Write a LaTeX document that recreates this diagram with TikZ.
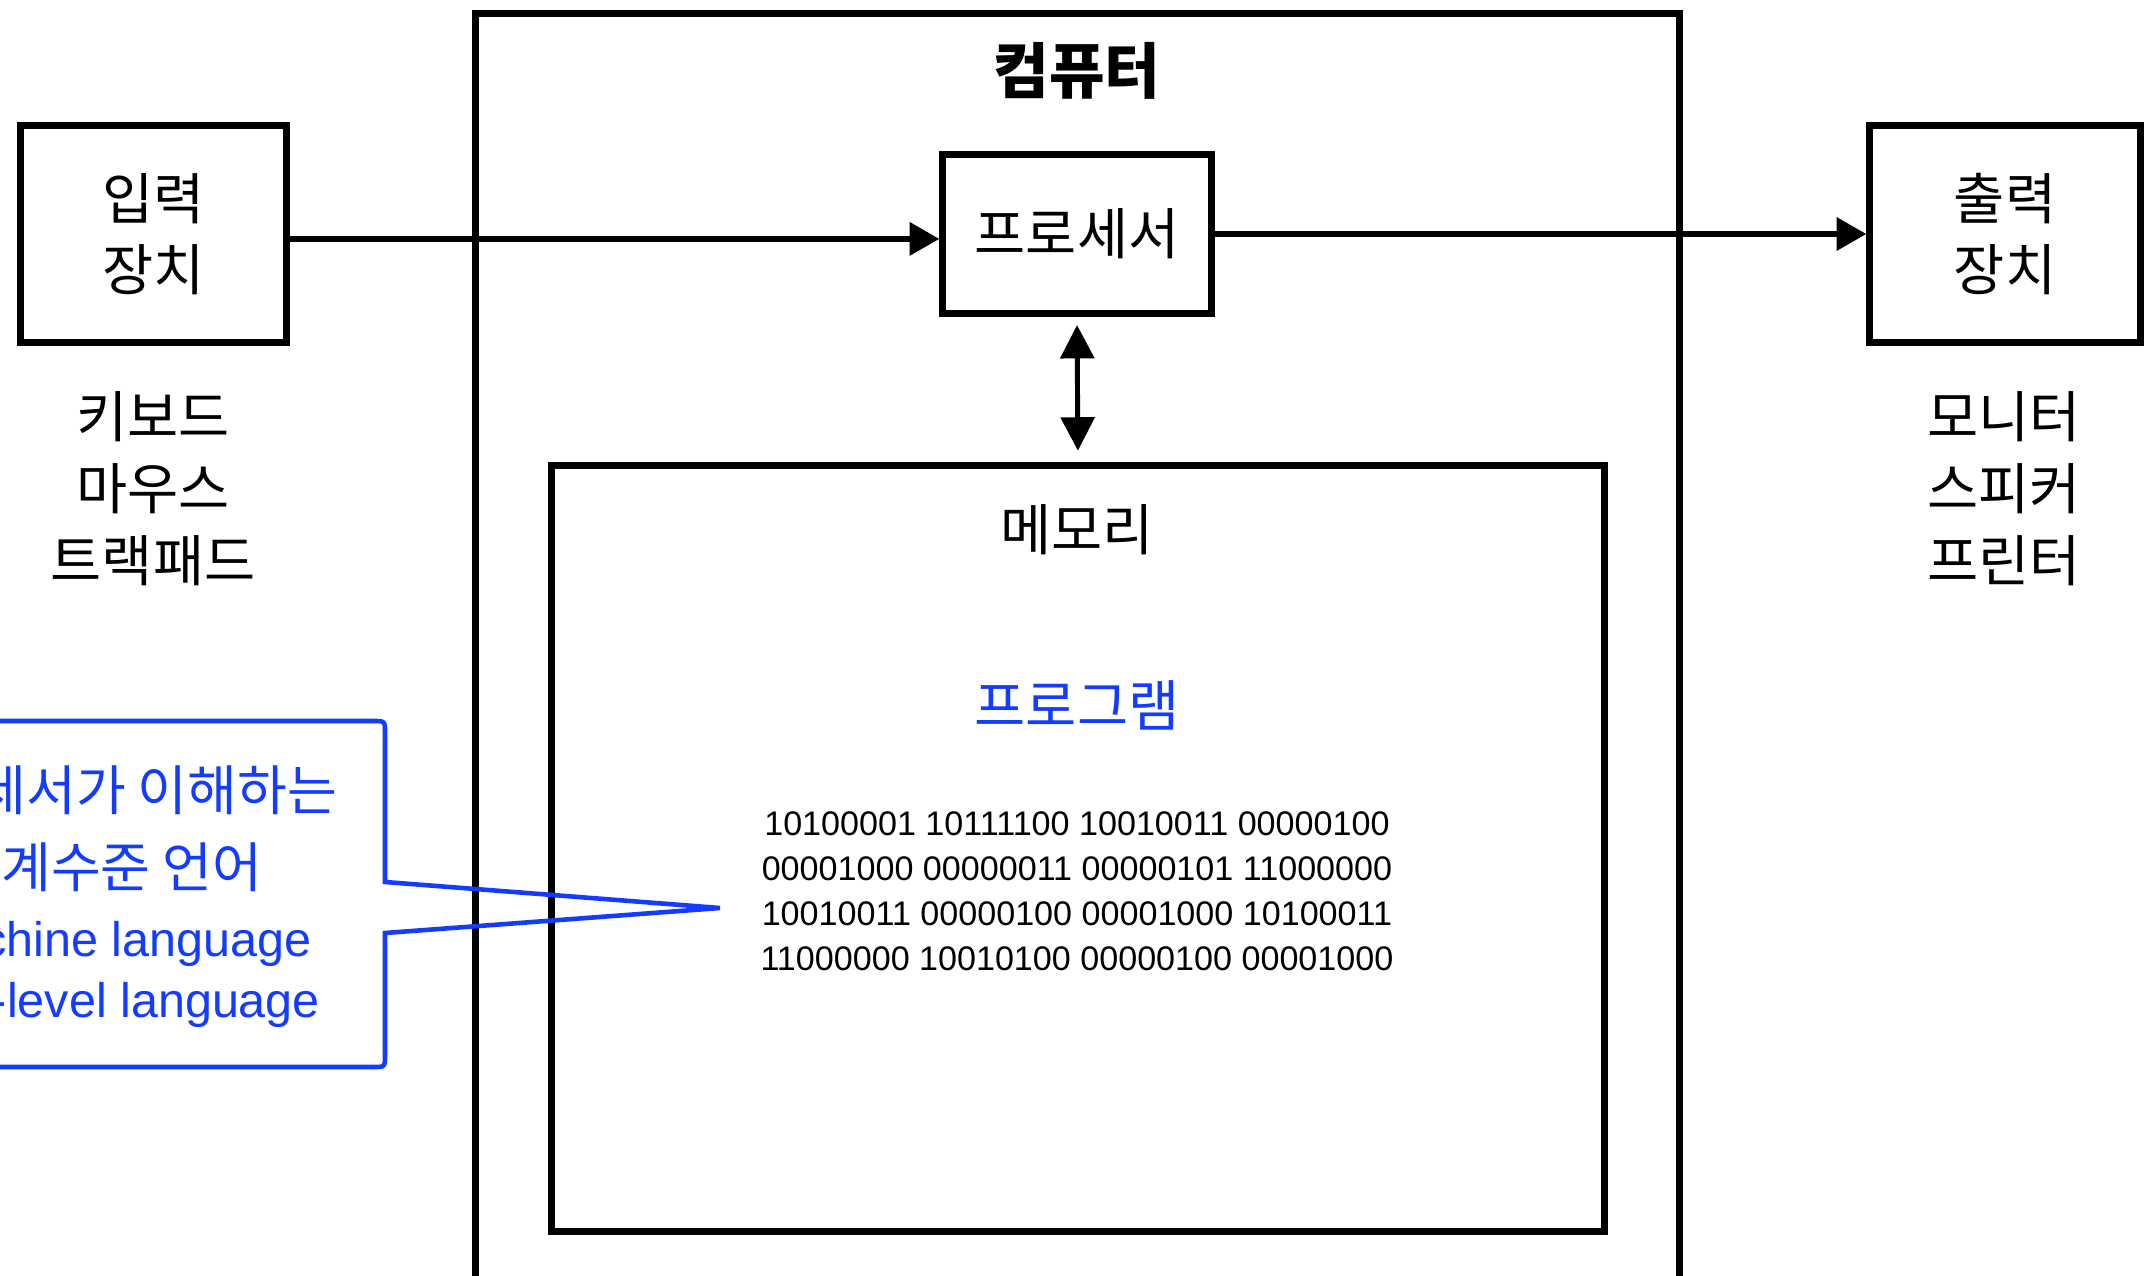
\documentclass[tikz,border=0pt]{standalone}
\usepackage{fontspec}
\setmainfont{Liberation Sans}
\newfontfamily\kr{Noto Sans CJK KR}
\usetikzlibrary{arrows.meta}
\definecolor{cblue}{RGB}{20,60,255}
\tikzset{
  box/.style={draw, line width=2pt, inner sep=0pt, align=center,
    font=\kr\fontsize{15.8pt}{20.2pt}\selectfont},
  lbl/.style={align=center, inner sep=0pt, font=\kr\fontsize{15.8pt}{20.5pt}\selectfont},
  arr/.style={line width=1.7pt, -{Triangle[length=8.5pt,width=9.2pt]}},
  darr/.style={line width=1.4pt, {Triangle[length=9.5pt,width=9.5pt]}-{Triangle[length=9.5pt,width=9.5pt]}},
  callout/.style={draw=cblue, line width=1.3pt, line join=miter},
  ckr/.style={text=cblue, inner sep=0pt, font=\kr\fontsize{15.4pt}{16pt}\selectfont},
  cen/.style={text=cblue, inner sep=0pt, font=\fontsize{13.8pt}{16pt}\selectfont},
  binary/.style={align=center, inner sep=0pt, font=\fontsize{9.7pt}{12.8pt}\selectfont}
}
\begin{document}
\begin{tikzpicture}[x=0.01cm, y=-0.01cm]
\useasboundingbox[fill=white] (0,0) rectangle (2144,1276);
% computer frame
\node[box, anchor=north, minimum width=12.03cm, minimum height=14cm] (comp) at (1077.5,10) {};
\node[lbl, font=\kr\bfseries\fontsize{17.2pt}{20pt}\selectfont] (ctitle) at (1077,71) {컴퓨터};
% input / output
\node[box, minimum width=2.66cm, minimum height=2.17cm] (inp) at (153.5,234) {입력\\장치};
\node[lbl] (inl) at (153,489) {키보드\\마우스\\트랙패드};
\node[box, minimum width=2.70cm, minimum height=2.16cm] (outp) at (2005,234) {출력\\장치};
\node[lbl] (outl) at (2004,489) {모니터\\스피커\\프린터};
% processor and memory
\node[box, minimum width=2.68cm, minimum height=1.58cm] (proc) at (1077,234) {프로세서};
\node[box, minimum width=10.52cm, minimum height=7.65cm] (mem) at (1078,848.5) {};
\node[lbl] (memt) at (1077,530) {메모리};
\node[lbl, text=cblue] (prog) at (1077,705) {프로그램};
\node[binary] (bin) at (1077,891) {10100001 10111100 10010011 00000100\\00001000 00000011 00000101 11000000\\10010011 00000100 00001000 10100011\\11000000 10010100 00000100 00001000};
% connectors
\draw[arr] ([yshift=-1.4pt]inp.east) -- ([yshift=-1.4pt]proc.west);
\draw[arr] (proc.east) -- (outp.west);
\draw[darr, shorten <=2.4pt, shorten >=3.3pt] (proc.south) -- (mem.north);
% callout
\coordinate (tip) at (720,908);
\draw[callout] (-200,721) -- (373,721) .. controls (385,721) .. (385,733) -- (385,882) -- (tip) -- (385,933) -- (385,1055) .. controls (385,1067) .. (373,1067) -- (-200,1067);
\node[ckr] (c1) at (107,790) {프로세서가 이해하는};
\node[ckr] (c2) at (107,867) {기계수준 언어};
\node[cen] (c3) at (113,944) {Machine language};
\node[cen] (c4) at (111,1005) {Low-level language};
\end{tikzpicture}
\end{document}
